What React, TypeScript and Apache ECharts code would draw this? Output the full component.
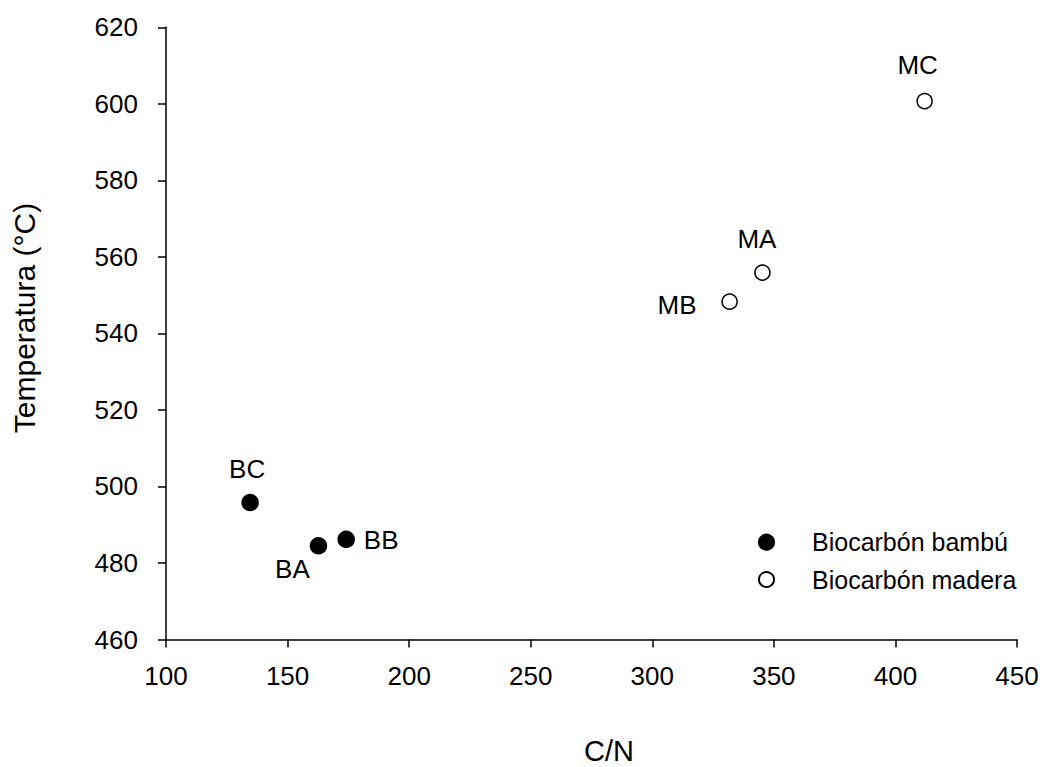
import React, { useEffect, useRef } from "react";
import * as echarts from "echarts";

const xTicks = [100, 150, 200, 250, 300, 350, 400, 450];
const yTicks = [460, 480, 500, 520, 540, 560, 580, 600, 620];

const bambuNames = ["BA", "BB", "BC"];
const bambuCN = [162.7, 174.1, 134.6];
const bambuTemp = [484.5, 486.2, 495.8];

const maderaNames = ["MA", "MB", "MC"];
const maderaCN = [345.3, 331.8, 412.0];
const maderaTemp = [555.9, 548.3, 600.7];

const seriesNames = ["Biocarbón bambú", "Biocarbón madera"];
const xTitle = "C/N";
const yTitle = "Temperatura (°C)";

// label placement (styling only)
const labelOffsets: Record<string, [number, number]> = {
  BA: [-26, 23],
  BB: [35, 1],
  BC: [-3, -33.5],
  MA: [-5.5, -34],
  MB: [-52.5, 3],
  MC: [-7, -36],
};

const FONT = "'Liberation Sans', Arial, sans-serif";

function buildData(names: string[], xs: number[], ys: number[]) {
  return names.map((n, i) => ({
    name: n,
    value: [xs[i], ys[i]],
    label: {
      show: true,
      position: "inside",
      offset: labelOffsets[n],
      formatter: n,
      color: "#000",
      fontSize: 26,
      fontFamily: FONT,
    },
  }));
}

export default function App() {
  const ref = useRef<HTMLDivElement>(null);
  useEffect(() => {
    if (!ref.current) return;
    const chart = echarts.init(ref.current, undefined, { renderer: "svg" });
    const axisCommon = {
      axisLine: { show: true, onZero: false, lineStyle: { color: "#000", width: 1.5 } },
      axisTick: { show: true, inside: false, length: 8, lineStyle: { color: "#000", width: 1.5 } },
      splitLine: { show: false },
    };
    chart.setOption({
      animation: false,
      backgroundColor: "#fff",
      grid: { left: 166, right: 26, top: 27.3, bottom: 127.5, containLabel: false },
      xAxis: {
        type: "value",
        min: xTicks[0],
        max: xTicks[xTicks.length - 1],
        interval: xTicks[1] - xTicks[0],
        ...axisCommon,
        axisLabel: { color: "#000", fontSize: 26, fontFamily: FONT, margin: 23 },
      },
      yAxis: {
        type: "value",
        min: yTicks[0],
        max: yTicks[yTicks.length - 1],
        interval: yTicks[1] - yTicks[0],
        ...axisCommon,
        axisLabel: { color: "#000", fontSize: 26, fontFamily: FONT, margin: 28 },
      },
      legend: {
        orient: "vertical",
        left: 758,
        top: 529.7,
        padding: 0,
        itemWidth: 15,
        itemHeight: 15,
        itemGap: 12.3,
        data: seriesNames,
        textStyle: {
          color: "#000",
          fontSize: 25,
          lineHeight: 24,
          fontFamily: FONT,
          padding: [0, 0, 0, 33],
        },
      },
      graphic: [
        {
          type: "text",
          x: 24,
          y: 318,
          rotation: Math.PI / 2,
          style: {
            text: yTitle,
            fill: "#000",
            fontSize: 30,
            fontFamily: FONT,
            align: "center",
            verticalAlign: "middle",
          },
        },
        {
          type: "text",
          x: 609,
          y: 751,
          style: {
            text: xTitle,
            fill: "#000",
            fontSize: 29,
            fontFamily: FONT,
            align: "center",
            verticalAlign: "middle",
          },
        },
      ],
      series: [
        {
          name: seriesNames[0],
          type: "scatter",
          symbol: "circle",
          symbolSize: 16,
          itemStyle: { color: "#000", borderColor: "#000", borderWidth: 1.5, opacity: 1 },
          data: buildData(bambuNames, bambuCN, bambuTemp),
        },
        {
          name: seriesNames[1],
          type: "scatter",
          symbol: "circle",
          symbolSize: 15,
          itemStyle: { color: "#fff", borderColor: "#000", borderWidth: 1.5, opacity: 1 },
          data: buildData(maderaNames, maderaCN, maderaTemp),
        },
      ],
    });
    return () => chart.dispose();
  }, []);
  return (
    <div
      ref={ref}
      style={{ position: "absolute", left: 0, top: 0, width: 1043, height: 767 }}
    />
  );
}
